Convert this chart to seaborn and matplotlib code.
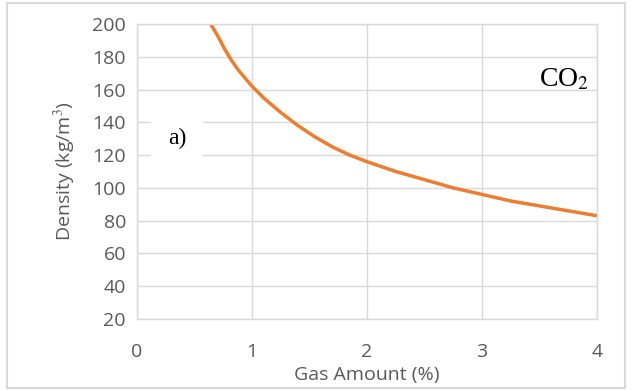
import matplotlib
matplotlib.use("Agg")
import matplotlib.pyplot as plt
import seaborn as sns
import pandas as pd
from matplotlib.patches import Rectangle

gas_amount = [0.64, 0.70, 0.76, 0.82, 0.88, 0.94, 1.0, 1.1, 1.25, 1.4, 1.55, 1.7, 1.85, 2.0, 2.25, 2.5, 2.75, 3.0, 3.25, 3.5, 3.75, 4.0]
density = [200, 193, 185, 178, 172, 167, 162, 155, 146, 138, 131, 125, 120, 116, 110, 105, 100, 96, 92, 89, 86, 83]
x_ticks = [0, 1, 2, 3, 4]
y_ticks = [20, 40, 60, 80, 100, 120, 140, 160, 180, 200]

df = pd.DataFrame({"gas": gas_amount, "density": density})

sns.set_theme(style="whitegrid")
plt.rcParams['font.family'] = ['Open Sans', 'DejaVu Sans']
plt.rcParams['mathtext.fontset'] = 'stix'

fig = plt.figure(figsize=(6.31, 3.90), dpi=100)
ax = fig.add_axes([137/631, 1-319/390, (597-137)/631, (319-24)/390])

sns.lineplot(data=df, x="gas", y="density", ax=ax, color="#ED7D31", linewidth=2.5)

ax.set_xlim(0, 4)
ax.set_ylim(20, 200)
ax.set_xticks(x_ticks)
ax.set_yticks(y_ticks)
ax.grid(True, color="#D9D9D9", linewidth=1)
for s in ax.spines.values():
    s.set_color("#D9D9D9")
    s.set_linewidth(1)
ax.tick_params(axis="both", colors="#595959", labelsize=14, length=0)
ax.tick_params(axis="x", pad=17)
ax.tick_params(axis="y", pad=8)
ax.set_xlabel("Gas Amount (%)", color="#595959", fontsize=14, labelpad=4)
ax.set_ylabel("Density (kg/m$^3$)", color="#595959", fontsize=14, labelpad=10)

ax.text(0.27, 130, "a)", fontsize=17, family="Liberation Serif", color="black",
        ha="left", va="center", bbox=dict(facecolor="white", edgecolor="none", pad=12))
ax.text(3.93, 166, "CO$_\\mathrm{2}$", fontsize=20, family="Liberation Serif", color="black",
        ha="right", va="center")

fig.patches.append(Rectangle((7/631, 2/390), 618/631, 385/390, transform=fig.transFigure,
                             fill=False, edgecolor="#D9D9D9", linewidth=1.5))

fig.savefig("out.png", dpi=100)
